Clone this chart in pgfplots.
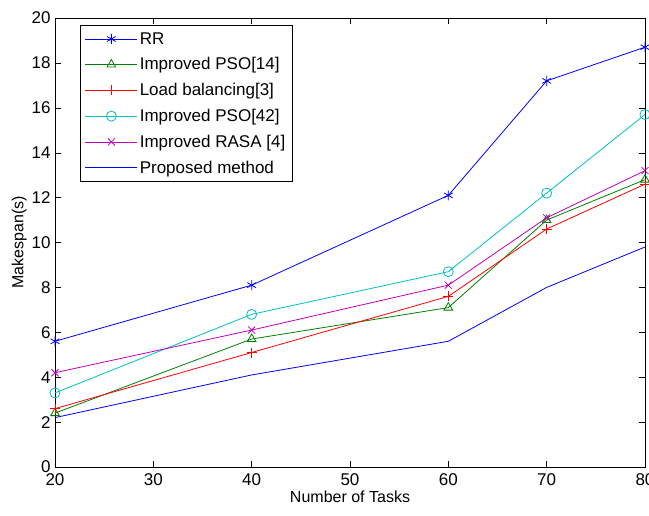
\documentclass[border=0pt]{standalone}
\usepackage{pgfplots}
\pgfplotsset{compat=1.18}
\usepackage{fontspec}
\setmainfont{Liberation Sans}
\definecolor{mgreen}{rgb}{0,0.5,0}
\definecolor{mcyan}{rgb}{0,0.75,0.75}
\definecolor{mmag}{rgb}{0.75,0,0.75}
\begin{document}
\begin{tikzpicture}
\begin{axis}[
  at={(0pt,0pt)}, anchor=origin,
  scale only axis, width=590pt, height=449pt,
  xmin=20, xmax=80, ymin=0, ymax=20,
  xtick={20,30,...,80}, ytick={0,2,...,20},
  tick align=inside, major tick length=6pt,
  every tick/.style={black, thin},
  /pgf/number format/assume math mode=true,
  tick label style={font=\fontsize{17}{19}\selectfont},
  label style={font=\fontsize{16}{18}\selectfont},
  xticklabel style={yshift=-3pt},
  yticklabel style={xshift=-1pt},
  xlabel={Number of Tasks}, ylabel={Makespan(s)},
  xlabel style={yshift=2pt},
  ylabel style={yshift=-2pt},
  legend style={at={(0.042,0.984)}, anchor=north west, draw=black, fill=white,
    font=\fontsize{17}{20}\selectfont, row sep=8pt, inner sep=5pt},
  legend cell align=left,
  legend image code/.code={\draw[mark repeat=2,mark phase=2] plot coordinates {(0pt,0pt) (26pt,0pt) (52pt,0pt)};},
  every axis plot/.append style={thick, mark size=5pt, mark options={solid,thick}},
]
\addplot[blue, mark=asterisk] coordinates {(20,5.6) (40,8.1) (60,12.1) (70,17.2) (80,18.7)};
\addlegendentry{RR}
\addplot[mgreen, mark=triangle] coordinates {(20,2.4) (40,5.7) (60,7.1) (70,11.0) (80,12.8)};
\addlegendentry{Improved PSO[14]}
\addplot[red, mark=+] coordinates {(20,2.6) (40,5.1) (60,7.6) (70,10.6) (80,12.6)};
\addlegendentry{Load balancing[3]}
\addplot[mcyan, mark=o] coordinates {(20,3.3) (40,6.8) (60,8.7) (70,12.2) (80,15.7)};
\addlegendentry{Improved PSO[42]}
\addplot[mmag, mark=x] coordinates {(20,4.2) (40,6.1) (60,8.1) (70,11.1) (80,13.2)};
\addlegendentry{Improved RASA [4]}
\addplot[blue] coordinates {(20,2.2) (40,4.1) (60,5.6) (70,8.0) (80,9.8)};
\addlegendentry{Proposed method}
\end{axis}
\pgfresetboundingbox
\path (-55pt,-48pt) rectangle (594pt,467pt);
\end{tikzpicture}
\end{document}
